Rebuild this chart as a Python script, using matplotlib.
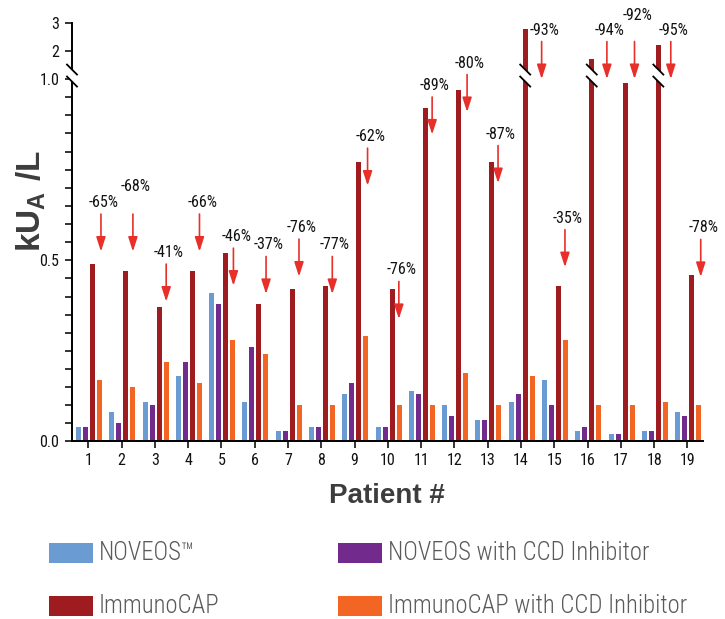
import numpy as np
import matplotlib
matplotlib.use("Agg")
import matplotlib.pyplot as plt
from matplotlib.patches import Polygon, Rectangle
from matplotlib.lines import Line2D
from matplotlib.transforms import IdentityTransform

plt.rcParams['font.family'] = ['Roboto Condensed', 'Liberation Sans', 'DejaVu Sans']
plt.rcParams['mathtext.fontset'] = 'custom'
plt.rcParams['mathtext.bf'] = 'Liberation Sans:bold'

patients = list(range(1, 20))
noveos = [0.04, 0.08, 0.11, 0.18, 0.41, 0.11, 0.03, 0.04, 0.13, 0.04,
          0.14, 0.10, 0.06, 0.11, 0.17, 0.03, 0.02, 0.03, 0.08]
noveos_ccd = [0.04, 0.05, 0.10, 0.22, 0.38, 0.26, 0.03, 0.04, 0.16, 0.04,
              0.13, 0.07, 0.06, 0.13, 0.10, 0.04, 0.02, 0.03, 0.07]
immunocap = [0.49, 0.47, 0.37, 0.47, 0.52, 0.38, 0.42, 0.43, 0.77, 0.42,
             0.92, 0.97, 0.77, 2.8, 0.43, 1.7, 0.99, 2.2, 0.46]
immunocap_ccd = [0.17, 0.15, 0.22, 0.16, 0.28, 0.24, 0.10, 0.10, 0.29, 0.10,
                 0.10, 0.19, 0.10, 0.18, 0.28, 0.10, 0.10, 0.11, 0.10]
reduction = ["-65%", "-68%", "-41%", "-66%", "-46%", "-37%", "-76%", "-77%", "-62%", "-76%",
             "-89%", "-80%", "-87%", "-93%", "-35%", "-94%", "-92%", "-95%", "-78%"]
# where each arrow points (kU_A/L) and its shift right of the tick
arrow_tip = [0.524, 0.524, 0.386, 0.524, 0.43, 0.407, 0.455, 0.407, 0.706, 0.338,
             0.847, 0.909, 0.713, 1.0, 0.481, 1.0, 1.0, 1.0, 0.454]
arrow_shift = [0.38, 0.34, 0.34, 0.34, 0.36, 0.34, 0.33, 0.33, 0.39, 0.33,
               0.33, 0.38, 0.31, 0.62, 0.32, 0.58, 0.41, 0.50, 0.40]
label_raise = [0, 16, 0, 0, 0, 0, 0, 0, 0, 0, 0, 0, 0, 0, 0, 0, 15, 0, 0]

series = [noveos, noveos_ccd, immunocap, immunocap_ccd]
names = ["NOVEOS\u2122", "NOVEOS with CCD Inhibitor", "ImmunoCAP", "ImmunoCAP with CCD Inhibitor"]
colors = ["#6a9bd3", "#722b8d", "#9e1b20", "#f26522"]
offsets = [-0.295, -0.084, 0.126, 0.337]

K = 0.0773  # compression of the part above 1.0


def fwd(v):
    v = np.asarray(v, dtype=float)
    return np.where(v <= 1, v, 1 + (v - 1) * K)


def inv(s):
    s = np.asarray(s, dtype=float)
    return np.where(s <= 1, s, 1 + (s - 1) / K)


fig = plt.figure(figsize=(7.25, 6.19), dpi=100)
ax = fig.add_axes([0.0993, 0.2868, 0.870, 0.676])
ax.set_yscale('function', functions=(fwd, inv))
ax.set_ylim(0, 3)
ax.set_xlim(0.51, 19.46)

x = np.array(patients)
for vals, col, off in zip(series, colors, offsets):
    ax.bar(x + off, vals, width=0.15, color=col, zorder=2)

for i, p in enumerate(patients):
    ax.annotate("", xy=(p + arrow_shift[i], arrow_tip[i]), xytext=(0, 27),
                textcoords='offset points',
                arrowprops=dict(arrowstyle="-|>,head_length=0.62,head_width=0.2",
                                color="#e8302a", lw=1.2, shrinkA=0, shrinkB=0,
                                mutation_scale=14), zorder=3)
    ax.annotate(reduction[i], xy=(p + arrow_shift[i], arrow_tip[i]),
                xytext=(2, (49 + label_raise[i]) * 0.72), textcoords='offset points',
                ha='center', va='center', fontsize=11.5, color="#111111",
                annotation_clip=False)

ax.spines['top'].set_visible(False)
ax.spines['right'].set_visible(False)
ax.spines['left'].set_linewidth(1.4)
ax.spines['bottom'].set_linewidth(1.4)

ax.set_yticks([0, 0.5, 1.0, 2, 3])
ax.set_yticklabels(["0.0", "0.5", "1.0", "2", "3"])
minor = [v for v in np.arange(0.05, 1.0, 0.05) if abs(v - 0.5) > 0.01]
ax.set_yticks(minor, minor=True)
ax.set_xticks(patients)
ax.tick_params(axis='both', which='both', length=5, width=1.2, labelsize=11.5, colors="#111111")
ax.tick_params(axis='y', pad=4)

fig.text(0.534, 0.199, "Patient #", ha='center', va='center', fontsize=20,
         fontweight='bold', color="#3d3d3d", family='Liberation Sans')
fig.text(0.043, 0.675, r"$\mathbf{kU_{A}\ /L}$", ha='center', va='center', fontsize=24,
         rotation=90, color="#3d3d3d")

# axis breaks
H = 619
ident = IdentityTransform()


def draw_break(xd, yd):
    s1 = [(xd - 5, yd + 10.5), (xd + 5, yd + 0.5)]
    s2 = [(xd - 5, yd - 1.5), (xd + 5, yd - 11.5)]
    fig.add_artist(Polygon([s1[0], s1[1], s2[1], s2[0]], closed=True, facecolor='white',
                           edgecolor='none', transform=ident, zorder=5))
    for s in (s1, s2):
        fig.add_artist(Line2D([s[0][0], s[1][0]], [s[0][1], s[1][1]], color='black',
                              lw=1.3, transform=ident, zorder=6))


y_break = ax.transData.transform((1, 1.0))[1] + 4
x_axis = ax.transAxes.transform((0, 0))[0]
draw_break(x_axis, y_break)
for i, p in enumerate(patients):
    if immunocap[i] > 1.2:
        draw_break(ax.transData.transform((p + offsets[2], 0))[0], y_break)

# legend
for j, (nm, col) in enumerate(zip(names, colors)):
    col_x = [49, 338][j % 2]
    row_y = [553, 606][j // 2]
    fig.add_artist(Rectangle((col_x / 725, 1 - (row_y + 10) / H), 44 / 725, 20 / H,
                             facecolor=col, edgecolor='none', transform=fig.transFigure))
    fig.text((col_x + 50) / 725, 1 - row_y / H, nm, ha='left', va='center',
             fontsize=17.8, fontweight='light', color="#5a5a5a")

fig.savefig("out.png", dpi=100)
